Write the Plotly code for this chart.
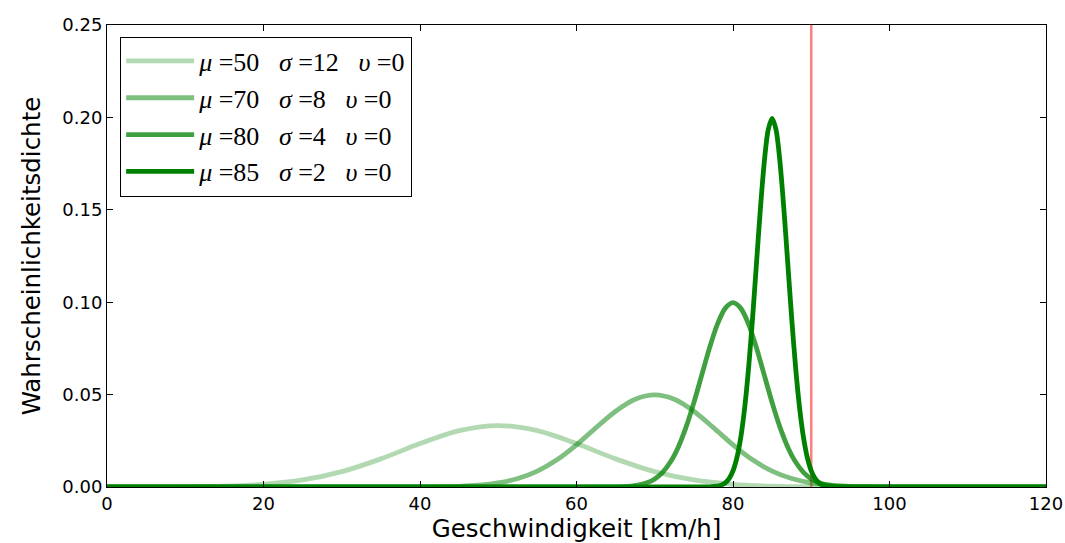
import plotly.graph_objects as go

# Values
x1 = [0, 5, 10, 15, 20, 25, 30, 35, 40, 45, 50, 55, 60, 65, 70, 75, 80, 85, 90, 95, 100, 120]
y1 = [0.000006, 0.00003, 0.000128, 0.000473, 0.00146, 0.0038, 0.00829, 0.01522, 0.02349, 0.03048, 0.03324,
      0.03048, 0.02349, 0.01522, 0.00829, 0.0038, 0.00146, 0.000473, 0.000128, 0.00003, 0.000006, 0.0]

x2 = [0, 35, 40, 42.5, 45, 47.5, 50, 52.5, 55, 57.5, 60, 62.5, 65, 67.5, 70,
      72.5, 75, 77.5, 80, 82.5, 85, 87.5, 90, 92.5, 95, 97.5, 100, 105, 120]
y2 = [0.0, 0.000004, 0.000044, 0.000136, 0.000378, 0.000955, 0.00219, 0.00456, 0.0086, 0.01471, 0.02283, 0.03214, 0.04102, 0.0475, 0.04987,
      0.0475, 0.04102, 0.03214, 0.02283, 0.01471, 0.0086, 0.00456, 0.00219, 0.000955, 0.000378, 0.000136, 0.000044, 0.000004, 0.0]

x3 = [0, 60, 64, 66, 67, 68, 69, 70, 71, 72, 73, 74, 75, 76, 77, 78, 79, 80,
      81, 82, 83, 84, 85, 86, 87, 88, 89, 90, 91, 92, 93, 94, 96, 100, 120]
y3 = [0.0, 0.000001, 0.000033, 0.00022, 0.00051, 0.00111, 0.00227, 0.00438, 0.00794, 0.0135, 0.02157, 0.03238, 0.04566, 0.06049, 0.07528, 0.08802, 0.09667, 0.09974,
      0.09667, 0.08802, 0.07528, 0.06049, 0.04566, 0.03238, 0.02157, 0.0135, 0.00794, 0.00438, 0.00227, 0.00111, 0.00051, 0.00022, 0.000033, 0.000001, 0.0]

x4 = [0, 74, 76, 77, 78, 78.5, 79, 79.5, 80, 80.5, 81, 81.5, 82, 82.5, 83, 83.5, 84, 84.5, 85,
      85.5, 86, 86.5, 87, 87.5, 88, 88.5, 89, 89.5, 90, 90.5, 91, 91.5, 92, 93, 94, 96, 120]
y4 = [0.0, 0.0, 0.000008, 0.000067, 0.00044, 0.00102, 0.00222, 0.00455, 0.00876, 0.01587, 0.027, 0.04315, 0.06476, 0.09132, 0.12098, 0.15057, 0.17603, 0.19333, 0.19947,
      0.19333, 0.17603, 0.15057, 0.12098, 0.09132, 0.06476, 0.04315, 0.027, 0.01587, 0.00876, 0.00455, 0.00222, 0.00102, 0.00044, 0.000067, 0.000008, 0.0, 0.0]

labels = ["<i>μ</i> =50   <i>σ</i> =12   <i>υ</i> =0",
          "<i>μ</i> =70   <i>σ</i> =8   <i>υ</i> =0",
          "<i>μ</i> =80   <i>σ</i> =4   <i>υ</i> =0",
          "<i>μ</i> =85   <i>σ</i> =2   <i>υ</i> =0"]
colors = ["rgba(0,128,0,0.3)", "rgba(0,128,0,0.5)", "rgba(0,128,0,0.75)", "rgba(0,128,0,1)"]

limit_x = [90, 90]
limit_y = [0, 0.25]

xs = [x1, x2, x3, x4]
ys = [y1, y2, y3, y4]

fig = go.Figure()
fig.add_trace(go.Scatter(x=limit_x, y=limit_y, mode="lines",
                         line=dict(color="rgba(255,0,0,0.5)", width=2.5),
                         showlegend=False, hoverinfo="skip"))
for x, y, lab, c in zip(xs, ys, labels, colors):
    fig.add_trace(go.Scatter(x=x, y=y, mode="lines", name=lab,
                             line=dict(color=c, width=4.8, shape="spline", smoothing=0.8)))

axis_common = dict(showgrid=False, zeroline=False, showline=True, linecolor="black",
                   linewidth=1, mirror="ticks", ticks="inside", ticklen=6,
                   tickcolor="black", tickfont=dict(size=18, color="black"),
                   automargin=False)

fig.update_layout(
    width=1065, height=543,
    margin=dict(l=107, r=19, t=25, b=56),
    paper_bgcolor="white", plot_bgcolor="white",
    font=dict(family="DejaVu Sans", color="black"),
    xaxis=dict(range=[0, 120], tickvals=[0, 20, 40, 60, 80, 100, 120],
               title=dict(text="Geschwindigkeit [km/h]", font=dict(size=24.5), standoff=2),
               **axis_common),
    yaxis=dict(range=[0, 0.25], tickvals=[0, 0.05, 0.1, 0.15, 0.2, 0.25], tickformat=".2f",
               title=dict(text="Wahrscheinlichkeitsdichte", font=dict(size=24.5), standoff=14),
               **axis_common),
    legend=dict(x=0.014, y=0.975, xanchor="left", yanchor="top",
                bgcolor="white", bordercolor="black", borderwidth=1,
                font=dict(family="Liberation Serif", size=26, color="black"),
                tracegroupgap=0, itemwidth=68),
)

fig.write_html(
    "out.html",
    config={"displayModeBar": False},
    post_script="document.body.style.margin='0';document.body.style.overflow='hidden';",
)
